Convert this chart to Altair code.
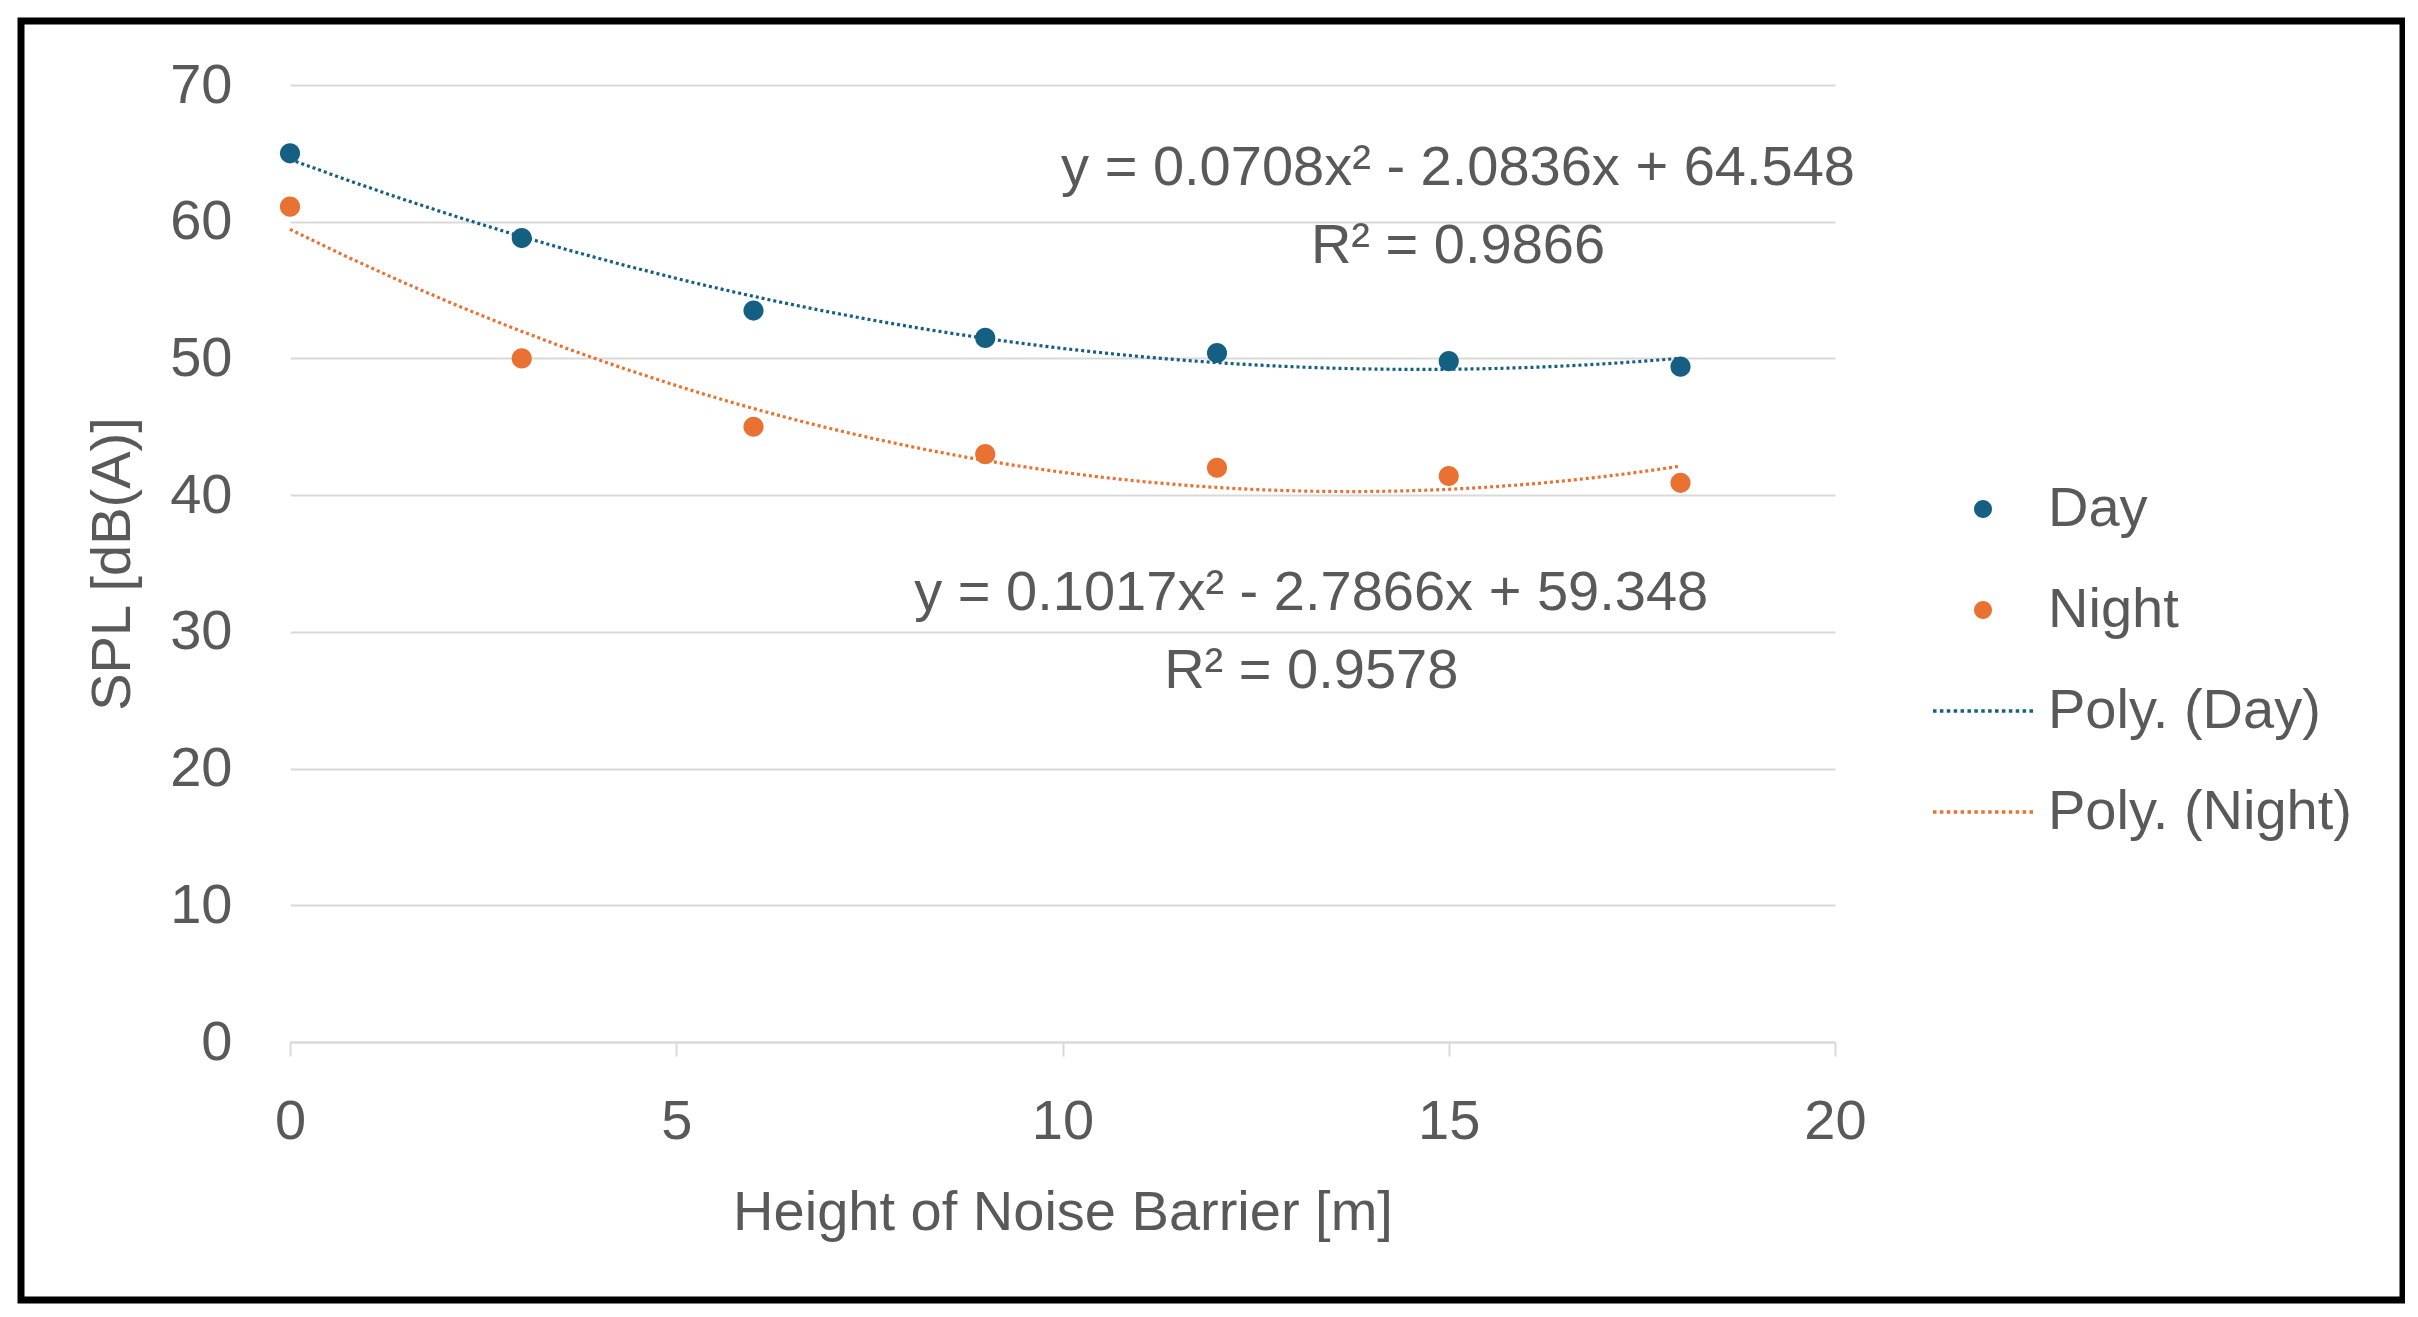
import altair as alt
import pandas as pd

# ---- data ----
heights = [0, 3, 6, 9, 12, 15, 18]
day_spl = [65.0, 58.8, 53.5, 51.5, 50.4, 49.8, 49.4]
night_spl = [61.1, 50.0, 45.0, 43.0, 42.0, 41.4, 40.9]

series_names = ["Day", "Night"]
legend_labels = ["Day", "Night", "Poly. (Day)", "Poly. (Night)"]
series_colors = ["#156082", "#E97132", "#156082", "#E97132"]

eq_texts = ["y = 0.0708x² - 2.0836x + 64.548", "R² = 0.9866",
            "y = 0.1017x² - 2.7866x + 59.348", "R² = 0.9578"]
eq_x = [15.12, 15.12, 13.22, 13.22]
eq_y = [62.7, 57.0, 31.6, 25.9]

x_ticks = [0, 5, 10, 15, 20]
y_ticks = [0, 10, 20, 30, 40, 50, 60, 70]

FONT = "Liberation Sans"
GREY = "#595959"
FS = 56

rows = []
for h, d, n in zip(heights, day_spl, night_spl):
    rows.append({"x": h, "y": d, "series": "Day"})
    rows.append({"x": h, "y": n, "series": "Night"})
df = pd.DataFrame(rows)

ann = pd.DataFrame({"text": eq_texts, "x": eq_x, "y": eq_y})

# symbol shapes: small circle, and a dotted horizontal line made of tiny squares
R = 0.18
CIRCLE = f"M{-R},0A{R},{R} 0 1,0 {R},0A{R},{R} 0 1,0 {-R},0Z"
_n, _w = 15, 0.07
_pitch = (2 - _w) / (_n - 1)
DOTS = "".join(f"M{-1 + i * _pitch:.4f},-0.035h{_w}v0.07h-{_w}Z" for i in range(_n))

xs = alt.Scale(domain=[0, 20], nice=False)
ys = alt.Scale(domain=[0, 70], nice=False)
cs = alt.Scale(domain=legend_labels, range=series_colors)

x_enc = alt.X("x:Q", scale=xs,
              axis=alt.Axis(values=x_ticks, format="d", title="Height of Noise Barrier [m]",
                            grid=False, domain=True, domainColor="#d9d9d9", domainWidth=2,
                            ticks=True, tickColor="#d9d9d9", tickSize=14, tickWidth=2,
                            labelFlush=False,
                            labelFontSize=FS, labelFont=FONT, labelColor=GREY, labelPadding=38,
                            titleFontSize=FS, titleFont=FONT, titleColor=GREY,
                            titleFontWeight="normal", titlePadding=36))
y_enc = alt.Y("y:Q", scale=ys,
              axis=alt.Axis(values=y_ticks, title="SPL [dB(A)]",
                            grid=True, gridColor="#d9d9d9", gridWidth=2,
                            domain=False, ticks=False,
                            labelFontSize=FS, labelFont=FONT, labelColor=GREY, labelPadding=58,
                            titleFontSize=FS, titleFont=FONT, titleColor=GREY,
                            titleFontWeight="normal", titlePadding=28))

legend = alt.Legend(
    title=None, orient="none", legendX=1643, legendY=374,
    labelFont=FONT, labelFontSize=FS, labelColor=GREY, labelLimit=600,
    symbolSize=10000, rowPadding=23, labelOffset=15, padding=0,
    symbolStrokeWidth=0,
    values=legend_labels,
)

points = alt.Chart(df).mark_point(filled=True, size=12500, opacity=1, strokeWidth=0).encode(
    x=x_enc, y=y_enc,
    color=alt.Color("series:N", scale=cs, legend=legend),
    shape=alt.Shape("series:N",
                    scale=alt.Scale(domain=legend_labels,
                                    range=[CIRCLE, CIRCLE, DOTS, DOTS]),
                    legend=legend),
)

trend = alt.Chart(df).transform_regression(
    "x", "y", groupby=["series"], method="poly", order=2
).transform_calculate(
    label="'Poly. (' + datum.series + ')'"
).mark_line(strokeWidth=3.2, strokeDash=[3, 3]).encode(
    x=alt.X("x:Q", scale=xs), y=alt.Y("y:Q", scale=ys),
    color=alt.Color("label:N", scale=cs),
)

texts = alt.Chart(ann).mark_text(
    font=FONT, fontSize=FS, color=GREY, align="center", baseline="alphabetic"
).encode(x=alt.X("x:Q", scale=xs), y=alt.Y("y:Q", scale=ys), text="text:N")

border = alt.Chart(pd.DataFrame({"a": [0]})).mark_rect(
    filled=False, stroke="black", strokeWidth=7, clip=False
).encode(x=alt.value(-269), x2=alt.value(2113), y=alt.value(-64), y2=alt.value(1215))

chart = alt.layer(trend, points, texts, border).properties(
    width=1545, height=957,
    autosize=alt.AutoSizeParams(type="none"),
    padding={"left": 282, "top": 77, "right": 570, "bottom": 262},
    background="white",
).configure_view(stroke=None)

chart.save("out.html", embed_options={"renderer": "svg", "actions": False})
